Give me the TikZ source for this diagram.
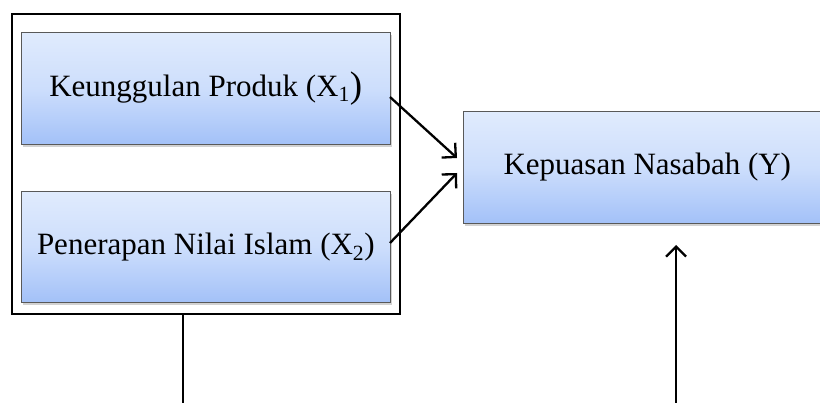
\documentclass[tikz,border=0pt]{standalone}
\usepackage{fontspec}
\setmainfont{Liberation Serif}
\usetikzlibrary{shadows,arrows.meta}
\begin{document}
\begin{tikzpicture}[x=1pt,y=-1pt,
  varbox/.style={draw=gray!70!black, line width=0.6pt, top color={rgb,255:red,224;green,235;blue,253}, bottom color={rgb,255:red,163;green,193;blue,248},
    middle color={rgb,255:red,205;green,222;blue,252},
    drop shadow={shadow xshift=2pt,shadow yshift=-3pt,opacity=0.35},
    font=\fontsize{31}{36}\selectfont, inner sep=0pt},
  conn/.style={line width=2.3pt, -{Straight Barb[length=10pt,width=20pt,line width=2.3pt]}},
  plain/.style={line width=2.3pt}]
\useasboundingbox (0,0) rectangle (820,403);
\fill[white] (0,0) rectangle (820,403);
\node[draw, line width=2pt, minimum width=388pt, minimum height=300pt, inner sep=0pt, anchor=north west] (outer) at (11,13) {};
\node[varbox, minimum width=369pt, minimum height=112pt, anchor=north west] (x1) at (21,32) {Keunggulan Produk (X\textsubscript{1}{\fontsize{37}{36}\selectfont\raisebox{-1pt}{)}}};
\node[varbox, minimum width=369pt, minimum height=111pt, anchor=north west] (x2) at (21,191) {\raisebox{-5pt}{Penerapan Nilai Islam (X\textsubscript{2})}};
\node[varbox, minimum width=368pt, minimum height=112pt, anchor=north west] (y) at (463,111) {Kepuasan Nasabah (Y)};
\coordinate (s1) at (390,97);
\coordinate (s2) at (390,243);
\coordinate (t1) at (457,158);
\coordinate (t2) at (457,173);
\draw[conn] (s1) -- (t1);
\draw[conn] (s2) -- (t2);
\coordinate (b1) at (183,403);
\coordinate (b2) at (676,403);
\coordinate (u2) at (676,245);
\draw[plain] (outer.south -| b1) -- (b1);
\draw[conn] (b2) -- (u2);
\end{tikzpicture}
\end{document}
